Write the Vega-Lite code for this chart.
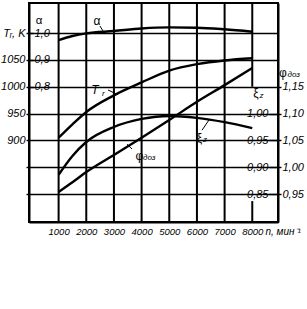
{
  "$schema": "https://vega.github.io/schema/vega-lite/v6.json",
  "width": 249,
  "height": 219,
  "autosize": {"type": "none"},
  "padding": {"left": 29, "top": 3, "right": 29, "bottom": 87},
  "background": "white",
  "view": {"stroke": "black", "strokeWidth": 2},
  "datasets": {
    "curves": [
      {"n": 1000, "Tr": 905, "alpha": 0.974, "xi": 0.886, "phi": 0.954},
      {"n": 1500, "Tr": 930, "alpha": 0.989, "xi": 0.921, "phi": 0.972},
      {"n": 2000, "Tr": 953, "alpha": 0.999, "xi": 0.947, "phi": 0.991},
      {"n": 3000, "Tr": 984, "alpha": 1.0075, "xi": 0.975, "phi": 1.023},
      {"n": 4000, "Tr": 1008, "alpha": 1.017, "xi": 0.99, "phi": 1.055},
      {"n": 5000, "Tr": 1030, "alpha": 1.021, "xi": 0.9955, "phi": 1.088},
      {"n": 6000, "Tr": 1042, "alpha": 1.02, "xi": 0.992, "phi": 1.122},
      {"n": 7000, "Tr": 1049, "alpha": 1.014, "xi": 0.984, "phi": 1.153},
      {"n": 8000, "Tr": 1053, "alpha": 1.005, "xi": 0.973, "phi": 1.185}
    ],
    "gridlines": [
      {"n": 1000, "n2": 1000, "T": 1156, "T2": 748},
      {"n": 2000, "n2": 2000, "T": 1156, "T2": 748},
      {"n": 3000, "n2": 3000, "T": 1156, "T2": 748},
      {"n": 4000, "n2": 4000, "T": 1156, "T2": 748},
      {"n": 5000, "n2": 5000, "T": 1156, "T2": 748},
      {"n": 6000, "n2": 6000, "T": 1156, "T2": 748},
      {"n": 7000, "n2": 7000, "T": 1156, "T2": 748},
      {"n": 8000, "n2": 8000, "T": 1156, "T2": 1000},
      {"n": 8000, "n2": 8000, "T": 787, "T2": 748},
      {"n": -70, "n2": 8930, "T": 1156, "T2": 1156}
    ],
    "symbols": [
      {"n": 2390, "T": 1122, "label": "α"},
      {"n": 3924, "T": 871, "label": "φ"},
      {"n": 6093, "T": 905, "label": "ξ"},
      {"n": 8135, "T": 988, "label": "ξ"},
      {"n": 9111, "T": 1026, "label": "φ"}
    ],
    "italicSymbols": [
      {"n": 2316, "T": 994, "label": "T"}
    ],
    "subscripts": [
      {"n": 2569, "T": 986, "label": "r"},
      {"n": 4050, "T": 867, "label": "доз"},
      {"n": 6219, "T": 901, "label": "z"},
      {"n": 8261, "T": 983, "label": "z"},
      {"n": 9274, "T": 1022, "label": "доз"}
    ],
    "leaders": [
      {"n": 2496, "T": 1113, "n2": 2605, "T2": 1104},
      {"n": 2786, "T": 994, "n2": 3147, "T2": 985},
      {"n": 3653, "T": 884, "n2": 3472, "T2": 893},
      {"n": 6183, "T": 919, "n2": 6436, "T2": 938}
    ]
  },
  "encoding": {
    "x": {
      "field": "n", "type": "quantitative",
      "scale": {"domain": [-70, 8930], "nice": false, "zero": false},
      "axis": {
        "values": [1000, 2000, 3000, 4000, 5000, 6000, 7000, 8000],
        "format": "d",
        "grid": false, "ticks": false, "domain": true, "domainColor": "black", "domainWidth": 2,
        "labelPadding": 4, "labelFont": "Liberation Sans", "labelFontStyle": "italic", "labelFontSize": 9.5, "labelColor": "black",
        "labelDx": -3, "labelFlush": false, "labelOverlap": false, "labelBound": false,
        "title": "n, мин⁻¹", "titleX": 236, "titleY": 12, "titleAlign": "left", "titleBaseline": "alphabetic",
        "titleFont": "Liberation Sans", "titleFontSize": 10, "titleFontStyle": "italic", "titleFontWeight": "normal", "titleColor": "black"
      }
    }
  },
  "resolve": {"scale": {"y": "independent"}},
  "layer": [
    {
      "data": {"name": "gridlines"},
      "mark": {"type": "rule", "color": "black", "strokeWidth": 2},
      "encoding": {
        "x2": {"field": "n2"},
        "y": {"field": "T", "type": "quantitative", "scale": {"domain": [748, 1156], "nice": false, "zero": false}, "axis": null},
        "y2": {"field": "T2"}
      }
    },
    {
      "data": {"name": "curves"},
      "mark": {"type": "line", "interpolate": "monotone", "stroke": "black", "strokeWidth": 2.4},
      "encoding": {
        "y": {
          "field": "Tr", "type": "quantitative",
          "scale": {"domain": [748, 1156], "nice": false, "zero": false},
          "axis": {
            "orient": "left",
            "values": [1100, 1050, 1000, 950, 900, 850, 800],
            "labelExpr": "datum.value == 1100 ? 'Tᵣ, K' : (datum.value < 880 ? '' : format(datum.value, 'd'))",
            "grid": true, "gridColor": "black", "gridWidth": 1.4, "gridOpacity": 1,
            "domain": true, "domainColor": "black", "domainWidth": 2,
            "tickSize": 3, "tickColor": "black", "tickWidth": 1.4,
            "labelPadding": 1, "labelFont": "Liberation Sans", "labelFontStyle": "italic", "labelFontSize": 11, "labelColor": "black",
            "title": null
          }
        }
      }
    },
    {
      "data": {"name": "curves"},
      "mark": {"type": "line", "interpolate": "monotone", "stroke": "black", "strokeWidth": 2.4},
      "encoding": {
        "y": {
          "field": "alpha", "type": "quantitative",
          "scale": {"domain": [0.296, 1.112], "nice": false, "zero": false},
          "axis": {
            "orient": "right", "offset": -249,
            "values": [1.0, 0.9, 0.8],
            "labelExpr": "replace(format(datum.value, '.1f'), '.', ',')",
            "grid": false, "domain": false, "tickSize": 4, "tickColor": "black", "tickWidth": 1.4,
            "labelPadding": 1, "labelFont": "Liberation Sans", "labelFontStyle": "italic", "labelFontSize": 11, "labelColor": "black",
            "title": "α", "titleAngle": 0, "titleX": 9.5, "titleY": 17.5, "titleAlign": "center", "titleBaseline": "middle",
            "titleFont": "Liberation Sans", "titleFontSize": 11.5, "titleFontWeight": "normal", "titleColor": "black"
          }
        }
      }
    },
    {
      "data": {"name": "curves"},
      "mark": {"type": "line", "interpolate": "monotone", "stroke": "black", "strokeWidth": 2.4},
      "encoding": {
        "y": {
          "field": "xi", "type": "quantitative",
          "scale": {"domain": [0.798, 1.206], "nice": false, "zero": false},
          "axis": {
            "orient": "left", "offset": -249,
            "values": [1.0, 0.95, 0.9, 0.85],
            "labelExpr": "replace(format(datum.value, '.2f'), '.', ',')",
            "grid": false, "domain": false, "tickSize": 9, "tickColor": "black", "tickWidth": 1.4,
            "labelPadding": 1, "labelFont": "Liberation Sans", "labelFontStyle": "italic", "labelFontSize": 11, "labelColor": "black",
            "title": null
          }
        }
      }
    },
    {
      "data": {"name": "curves"},
      "mark": {"type": "line", "interpolate": "monotone", "stroke": "black", "strokeWidth": 2.4},
      "encoding": {
        "y": {
          "field": "phi", "type": "quantitative",
          "scale": {"domain": [0.898, 1.306], "nice": false, "zero": false},
          "axis": {
            "orient": "right",
            "values": [1.15, 1.1, 1.05, 1.0, 0.95],
            "labelExpr": "replace(format(datum.value, '.2f'), '.', ',')",
            "grid": false, "domain": true, "domainColor": "black", "domainWidth": 2,
            "tickSize": 3, "tickColor": "black", "tickWidth": 1.4,
            "labelPadding": 1, "labelFont": "Liberation Sans", "labelFontStyle": "italic", "labelFontSize": 11, "labelColor": "black",
            "title": null
          }
        }
      }
    },
    {
      "data": {"name": "leaders"},
      "mark": {"type": "rule", "color": "black", "strokeWidth": 1},
      "encoding": {
        "x2": {"field": "n2"},
        "y": {"field": "T", "type": "quantitative", "scale": {"domain": [748, 1156], "nice": false, "zero": false}, "axis": null},
        "y2": {"field": "T2"}
      }
    },
    {
      "data": {"name": "symbols"},
      "mark": {"type": "text", "font": "Liberation Sans", "fontSize": 12, "color": "black", "align": "center", "baseline": "middle"},
      "encoding": {
        "text": {"field": "label"},
        "y": {"field": "T", "type": "quantitative", "scale": {"domain": [748, 1156], "nice": false, "zero": false}, "axis": null}
      }
    },
    {
      "data": {"name": "italicSymbols"},
      "mark": {"type": "text", "font": "Liberation Sans", "fontSize": 12, "fontStyle": "italic", "color": "black", "align": "center", "baseline": "middle"},
      "encoding": {
        "text": {"field": "label"},
        "y": {"field": "T", "type": "quantitative", "scale": {"domain": [748, 1156], "nice": false, "zero": false}, "axis": null}
      }
    },
    {
      "data": {"name": "subscripts"},
      "mark": {"type": "text", "font": "Liberation Sans", "fontSize": 8, "fontStyle": "italic", "color": "black", "align": "left", "baseline": "middle"},
      "encoding": {
        "text": {"field": "label"},
        "y": {"field": "T", "type": "quantitative", "scale": {"domain": [748, 1156], "nice": false, "zero": false}, "axis": null}
      }
    }
  ]
}
